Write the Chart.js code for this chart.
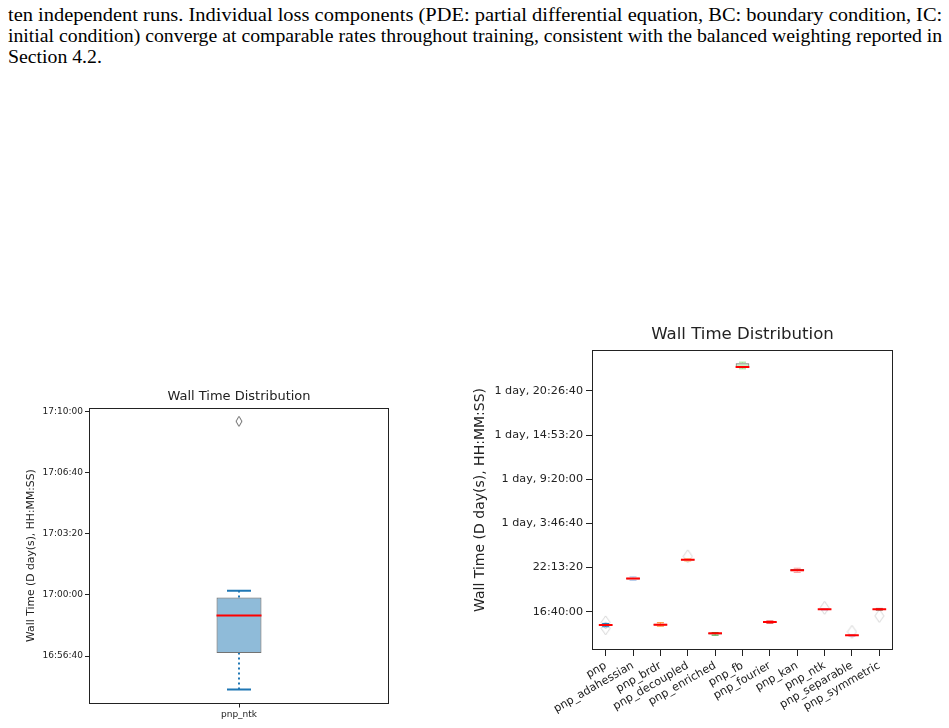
<!DOCTYPE html>
<html>
<head>
<meta charset="utf-8">
<script src="https://cdn.jsdelivr.net/npm/chart.js@4.4.1/dist/chart.umd.min.js"></script>
<style>
  html, body { margin: 0; padding: 0; background: #fff; }
  body { width: 949px; height: 728px; position: relative; overflow: hidden; }
  #text { position: absolute; left: 8px; top: 4px; width: 934px;
    font-family: "Liberation Serif", "Times New Roman", serif; font-size: 19px; line-height: 21px; color: #000; }
  #text div { white-space: nowrap; width: max-content; transform-origin: 0 0; }
  #left { position: absolute; left: 0; top: 372px; }
  #right { position: absolute; left: 460px; top: 311px; }
</style>
</head>
<body>
<div id="text">
  <div class="j">ten independent runs. Individual loss components (PDE: partial differential equation, BC: boundary condition, IC:</div>
  <div class="j">initial condition) converge at comparable rates throughout training, consistent with the balanced weighting reported in</div>
  <div>Section 4.2.</div>
</div>
<canvas id="left" width="420" height="356"></canvas>
<canvas id="right" width="489" height="417"></canvas>
<script>
// wall times in seconds
const ntkCats = ["pnp_ntk"];
const ntkMed = [61133];
const ntkQ1 = [61010];
const ntkQ3 = [61192];
const ntkLo = [60891];
const ntkHi = [61214];
const ntkOut = [[61768]];
const ntkTicks = [61000, 61200, 61400, 61600, 61800];

const allCats = ["pnp", "pnp_adahessian", "pnp_brdr", "pnp_decoupled", "pnp_enriched", "pnp_fb",
  "pnp_fourier", "pnp_kan", "pnp_ntk", "pnp_separable", "pnp_symmetric"];
const allMed = [53980, 75020, 54100, 83500, 50250, 170860, 55300, 78800, 61133, 49300, 61100];
const allQ1 = [53600, 74600, 53800, 83200, 49700, 170400, 55000, 78300, 61010, 49100, 60900];
const allQ3 = [54300, 75400, 54600, 83800, 50400, 172500, 55600, 79300, 61192, 49500, 61300];
const allLo = [53200, 74200, 53500, 82900, 49400, 170000, 54800, 77800, 60891, 48900, 60700];
const allHi = [54700, 75800, 55000, 84000, 50600, 173000, 55800, 79700, 61214, 49700, 61500];
const allOut = [[55200, 52500], [], [], [85100], [], [], [], [], [61768], [50900], [58100]];
const allTicks = [60000, 80000, 100000, 120000, 140000, 160000];

const tab20 = ["#1f77b4", "#aec7e8", "#ff7f0e", "#ffbb78", "#2ca02c", "#98df8a",
  "#d62728", "#ff9896", "#9467bd", "#c5b0d5", "#8c564b"];

Chart.defaults.font.family = "DejaVu Sans";
Chart.defaults.color = "#222";

function pad(n) { return String(n).padStart(2, "0"); }
function fmt(s) {
  const d = Math.floor(s / 86400);
  const r = Math.round(s - d * 86400);
  const hms = Math.floor(r / 3600) + ":" + pad(Math.floor((r % 3600) / 60)) + ":" + pad(r % 60);
  return d ? d + (d === 1 ? " day, " : " days, ") + hms : hms;
}

function alpha(hex, a) {
  const n = parseInt(hex.slice(1), 16);
  return `rgba(${n >> 16},${(n >> 8) & 255},${n & 255},${a})`;
}

function diamond(w, h, color) {
  const c = document.createElement("canvas");
  c.width = w + 2; c.height = h + 2;
  const g = c.getContext("2d");
  g.strokeStyle = color; g.lineWidth = 1;
  g.beginPath();
  g.moveTo(c.width / 2, 1); g.lineTo(c.width - 1, c.height / 2);
  g.lineTo(c.width / 2, c.height - 1); g.lineTo(1, c.height / 2);
  g.closePath(); g.stroke();
  return c;
}

const frame = {
  id: "frame",
  afterDraw(chart) {
    const a = chart.chartArea, ctx = chart.ctx;
    ctx.save();
    ctx.strokeStyle = "#222"; ctx.lineWidth = 1;
    ctx.strokeRect(Math.round(a.left) + 0.5, Math.round(a.top) + 0.5,
      Math.round(a.right - a.left) - 1, Math.round(a.bottom - a.top) - 1);
    ctx.restore();
  }
};

function boxChart(el, d, st) {
  const whisk = [], caps = [], outs = [];
  d.cats.forEach((c, i) => {
    whisk.push({x: c, y: d.lo[i]}, {x: c, y: d.q1[i]}, {x: c, y: null},
      {x: c, y: d.q3[i]}, {x: c, y: d.hi[i]}, {x: c, y: null});
    caps.push({x: c, y: d.lo[i]}, {x: c, y: d.hi[i]});
    d.out[i].forEach(v => outs.push({x: c, y: v}));
  });
  const tickFont = {size: st.tickSize};
  return new Chart(el, {
    type: "bar",
    data: {
      labels: d.cats,
      datasets: [
        {
          type: "line", data: d.med, showLine: false, order: 0,
          pointStyle: "line", pointRadius: st.boxW / 2, pointBorderWidth: 2,
          pointBorderColor: "#ff0000", pointBackgroundColor: "#ff0000"
        },
        {
          type: "line", data: caps, showLine: false, order: 1,
          pointStyle: "line", pointRadius: st.capW / 2, pointBorderWidth: st.capLw,
          pointBorderColor: ctx => d.colors[Math.floor(ctx.dataIndex / 2)]
        },
        {
          type: "line", data: outs, showLine: false, order: 2,
          pointStyle: diamond(st.dw, st.dh, st.outColor), pointRadius: 5
        },
        {
          type: "line", data: whisk, spanGaps: false, order: 3, pointRadius: 0,
          borderWidth: st.whiskLw, borderDash: st.dash,
          segment: {borderColor: ctx => d.colors[Math.floor(ctx.p0DataIndex / 6)]}
        },
        {
          type: "bar", data: d.q1.map((v, i) => [v, d.q3[i]]), order: 4,
          backgroundColor: d.colors.map(c => alpha(c, 0.5)),
          borderColor: "rgba(100,100,100,0.9)", borderWidth: 1, borderSkipped: false,
          barPercentage: st.barPct, categoryPercentage: 1
        }
      ]
    },
    options: {
      responsive: false,
      animation: false,
      layout: {padding: {left: 0, right: st.padRight, top: 0, bottom: 0}},
      plugins: {
        legend: {display: false},
        tooltip: {enabled: false},
        title: {
          display: true, text: "Wall Time Distribution", fullSize: false,
          font: {size: st.titleSize, weight: "normal"}, color: "#222",
          padding: {top: st.titleTop, bottom: st.titleBottom}
        }
      },
      scales: {
        x: {
          offset: true,
          border: {display: false},
          grid: {display: true, offset: false, drawOnChartArea: false, drawTicks: true,
            tickLength: st.tickLen, color: "#222"},
          ticks: {font: tickFont, color: "#222", padding: st.tickPad, autoSkip: false,
            minRotation: st.rot, maxRotation: st.rot},
          afterFit: s => { s.height = st.xHeight; }
        },
        y: {
          min: d.min, max: d.max,
          border: {display: false},
          grid: {display: true, drawOnChartArea: false, drawTicks: true,
            tickLength: st.tickLen, color: "#222"},
          afterBuildTicks: s => { s.ticks = d.ticks.map(v => ({value: v})); },
          ticks: {font: tickFont, color: "#222", padding: st.tickPad, callback: v => fmt(v)},
          title: {display: true, text: "Wall Time (D day(s), HH:MM:SS)", color: "#222",
            font: {size: st.ytSize}, padding: {top: st.ytPad, bottom: 0}},
          afterFit: s => { s.width = st.yWidth; }
        }
      }
    },
    plugins: [frame]
  });
}

boxChart(document.getElementById("left"), {
  cats: ntkCats, med: ntkMed, q1: ntkQ1, q3: ntkQ3, lo: ntkLo, hi: ntkHi, out: ntkOut,
  ticks: ntkTicks, min: 60845, max: 61813, colors: ["#1f77b4"]
}, {
  boxW: 45, capW: 24, capLw: 2, whiskLw: 2, dash: [2, 3], barPct: 0.15,
  dw: 6, dh: 10, outColor: "#666",
  padRight: 31, titleSize: 13, titleTop: 17, titleBottom: 3,
  tickSize: 9, tickLen: 4, tickPad: 2, rot: 0, xHeight: 23,
  ytSize: 10.8, ytPad: 24.5, yWidth: 89
});

boxChart(document.getElementById("right"), {
  cats: allCats, med: allMed, q1: allQ1, q3: allQ3, lo: allLo, hi: allHi, out: allOut,
  ticks: allTicks, min: 42670, max: 178550, colors: tab20
}, {
  boxW: 13.7, capW: 7, capLw: 1, whiskLw: 1, dash: [1, 1.6], barPct: 0.5,
  dw: 9, dh: 13, outColor: "rgba(200,200,200,0.8)",
  padRight: 56, titleSize: 16.6, titleTop: 14, titleBottom: 5,
  tickSize: 11.2, tickLen: 6, tickPad: 3, rot: 30, xHeight: 78,
  ytSize: 14, ytPad: 11.6, yWidth: 132
});

// squeeze the text lines to the column width like the page
const lines = document.querySelectorAll("#text div");
let k = 1;
lines.forEach(el => {
  if (el.classList.contains("j")) {
    k = 934 / el.scrollWidth;
    el.style.transform = `scaleX(${k})`;
  }
});
lines[2].style.transform = `scaleX(${k})`;
</script>
</body>
</html>
